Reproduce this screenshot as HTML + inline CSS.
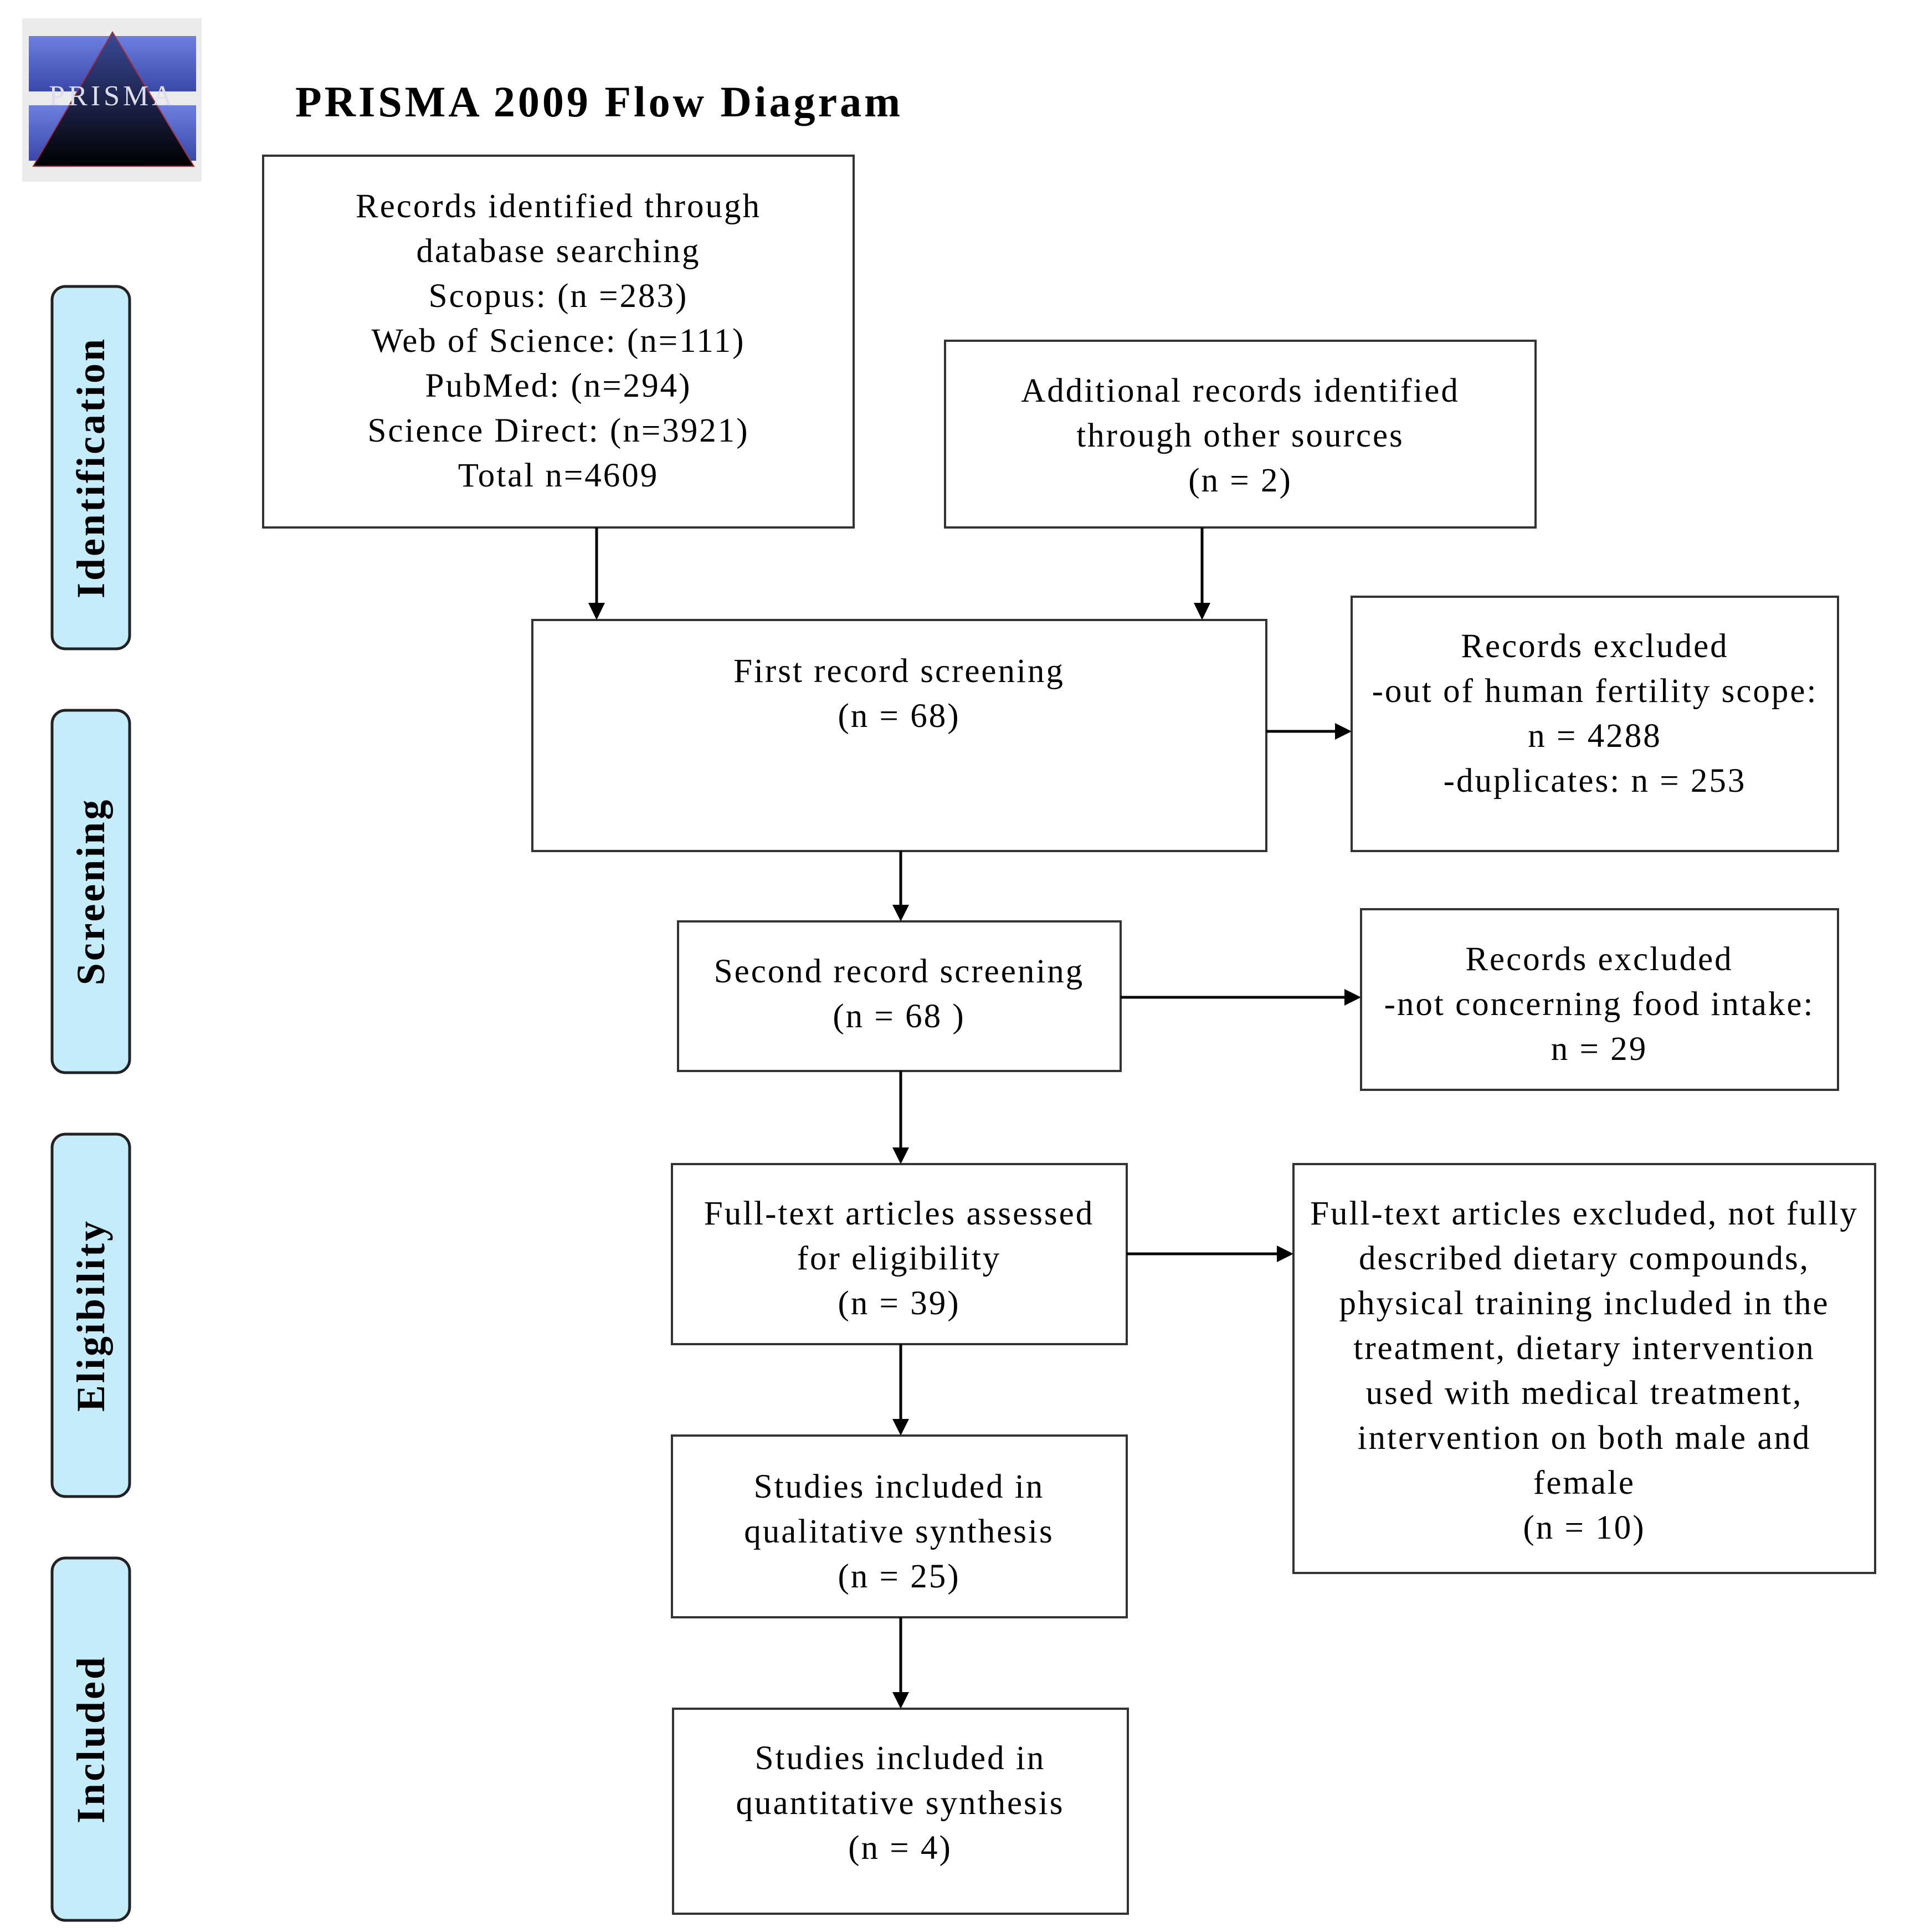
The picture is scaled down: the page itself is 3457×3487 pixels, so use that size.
<!DOCTYPE html>
<html><head><meta charset="utf-8"><style>
html,body{margin:0;padding:0;background:#fff}
body{width:3457px;height:3487px;position:relative;overflow:hidden}
svg{position:absolute;left:0;top:0}
text{font-family:"Liberation Serif",serif}
.t{font-size:61px;fill:#000;text-anchor:middle;letter-spacing:3px}
.s{font-size:72px;font-weight:bold;fill:#000;text-anchor:middle;letter-spacing:4px}
</style></head><body>
<svg width="3457" height="3487" viewBox="0 0 3457 3487">
<defs>
<linearGradient id="lg" x1="0" y1="0" x2="0" y2="1">
<stop offset="0" stop-color="#6d7fe0"/><stop offset="1" stop-color="#3a48a8"/></linearGradient>
<linearGradient id="tg" x1="0" y1="0" x2="0" y2="1">
<stop offset="0" stop-color="#3a4a9a"/><stop offset="1" stop-color="#000"/></linearGradient>
</defs>
<rect x="40" y="33" width="324" height="295" fill="#ececec"/>
<rect x="52" y="65" width="302" height="100" fill="url(#lg)"/>
<rect x="52" y="190" width="302" height="100" fill="url(#lg)"/>
<polygon points="203,58 60,300 350,300" fill="url(#tg)" stroke="#a03040" stroke-width="2"/>
<text x="203" y="190" font-size="52" fill="#dde" text-anchor="middle" letter-spacing="6">PRISMA</text>
<text x="533" y="210" font-size="78" font-weight="bold" letter-spacing="5">PRISMA 2009 Flow Diagram</text>
<g stroke="#222" stroke-width="5" fill="#c4ecfb">
<rect x="94" y="517" width="140" height="654" rx="24"/>
<rect x="94" y="1282" width="140" height="654" rx="24"/>
<rect x="94" y="2047" width="140" height="654" rx="24"/>
<rect x="94" y="2812" width="140" height="654" rx="24"/>
</g>
<text class="s" transform="translate(188,844) rotate(-90)">Identification</text>
<text class="s" transform="translate(188,1609) rotate(-90)">Screening</text>
<text class="s" transform="translate(188,2374) rotate(-90)">Eligibility</text>
<text class="s" transform="translate(188,3139) rotate(-90)">Included</text>
<g fill="#fff" stroke="#333" stroke-width="4">
<rect x="475" y="281" width="1066" height="671"/>
<rect x="1706" y="615" width="1066" height="337"/>
<rect x="961" y="1119" width="1325" height="417"/>
<rect x="2440" y="1077" width="878" height="459"/>
<rect x="1224" y="1663" width="799" height="270"/>
<rect x="2457" y="1641" width="861" height="326"/>
<rect x="1213" y="2101" width="821" height="325"/>
<rect x="2335" y="2101" width="1050" height="738"/>
<rect x="1213" y="2591" width="821" height="328"/>
<rect x="1215" y="3084" width="821" height="370"/>
</g>
<g stroke="#000" stroke-width="5">
<line x1="1077" y1="952" x2="1077" y2="1090"/>
<line x1="2170" y1="952" x2="2170" y2="1090"/>
<line x1="2286" y1="1320" x2="2412" y2="1320"/>
<line x1="1626" y1="1536" x2="1626" y2="1635"/>
<line x1="2023" y1="1800" x2="2429" y2="1800"/>
<line x1="1626" y1="1933" x2="1626" y2="2073"/>
<line x1="2034" y1="2263" x2="2307" y2="2263"/>
<line x1="1626" y1="2426" x2="1626" y2="2563"/>
<line x1="1626" y1="2919" x2="1626" y2="3056"/>
</g>
<g fill="#000">
<polygon points="1062,1088 1092,1088 1077,1119"/>
<polygon points="2155,1088 2185,1088 2170,1119"/>
<polygon points="2410,1305 2410,1335 2440,1320"/>
<polygon points="1611,1633 1641,1633 1626,1663"/>
<polygon points="2427,1785 2427,1815 2457,1800"/>
<polygon points="1611,2071 1641,2071 1626,2101"/>
<polygon points="2305,2248 2305,2278 2335,2263"/>
<polygon points="1611,2561 1641,2561 1626,2591"/>
<polygon points="1611,3054 1641,3054 1626,3084"/>
</g>
<g>
<text class="t" x="1008" y="392">Records identified through</text>
<text class="t" x="1008" y="473">database searching</text>
<text class="t" x="1008" y="554">Scopus: (n =283)</text>
<text class="t" x="1008" y="635">Web of Science: (n=111)</text>
<text class="t" x="1008" y="716">PubMed: (n=294)</text>
<text class="t" x="1008" y="797">Science Direct: (n=3921)</text>
<text class="t" x="1008" y="878">Total n=4609</text>

<text class="t" x="2239" y="725">Additional records identified</text>
<text class="t" x="2239" y="806">through other sources</text>
<text class="t" x="2239" y="887">(n = 2)</text>

<text class="t" x="1623" y="1231">First record screening</text>
<text class="t" x="1623" y="1312">(n = 68)</text>

<text class="t" x="2879" y="1186">Records excluded</text>
<text class="t" x="2879" y="1267">-out of human fertility scope:</text>
<text class="t" x="2879" y="1348">n = 4288</text>
<text class="t" x="2879" y="1429">-duplicates: n = 253</text>

<text class="t" x="1623" y="1773">Second record screening</text>
<text class="t" x="1623" y="1854">(n = 68 )</text>

<text class="t" x="2887" y="1751">Records excluded</text>
<text class="t" x="2887" y="1832">-not concerning food intake:</text>
<text class="t" x="2887" y="1913">n = 29</text>

<text class="t" x="1623" y="2210">Full-text articles assessed</text>
<text class="t" x="1623" y="2291">for eligibility</text>
<text class="t" x="1623" y="2372">(n = 39)</text>

<text class="t" x="2860" y="2210">Full-text articles excluded, not fully</text>
<text class="t" x="2860" y="2291">described dietary compounds,</text>
<text class="t" x="2860" y="2372">physical training included in the</text>
<text class="t" x="2860" y="2453">treatment, dietary intervention</text>
<text class="t" x="2860" y="2534">used with medical treatment,</text>
<text class="t" x="2860" y="2615">intervention on both male and</text>
<text class="t" x="2860" y="2696">female</text>
<text class="t" x="2860" y="2777">(n = 10)</text>

<text class="t" x="1623" y="2703">Studies included in</text>
<text class="t" x="1623" y="2784">qualitative synthesis</text>
<text class="t" x="1623" y="2865">(n = 25)</text>

<text class="t" x="1625" y="3193">Studies included in</text>
<text class="t" x="1625" y="3274">quantitative synthesis</text>
<text class="t" x="1625" y="3355">(n = 4)</text>
</g>
</svg>
</body></html>
